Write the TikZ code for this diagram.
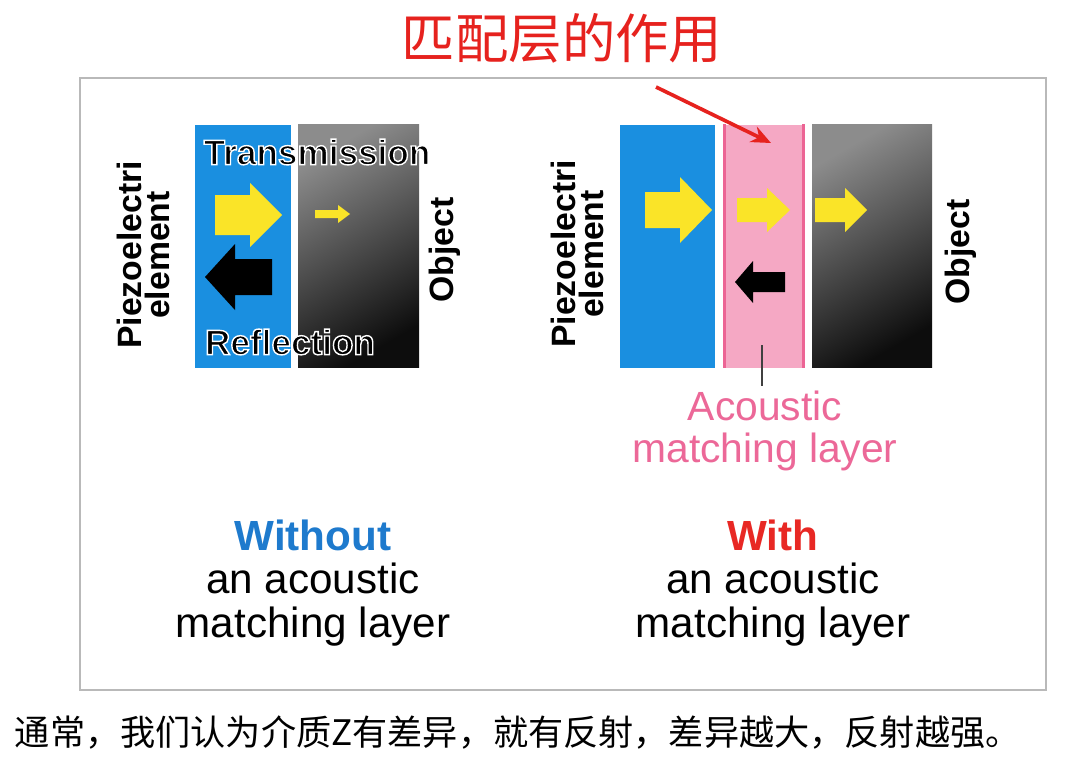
\documentclass[tikz,border=0pt]{standalone}
\usepackage{fontspec}
\setmainfont{Liberation Sans}
\newfontfamily\cjk{Noto Sans CJK SC}
\usepackage{xcolor}
\usetikzlibrary{arrows.meta}

\definecolor{piezo}{RGB}{26,143,224}
\definecolor{layer}{RGB}{245,168,196}
\definecolor{layeredge}{RGB}{236,100,148}
\definecolor{wave}{RGB}{250,228,40}
\definecolor{acoustic}{RGB}{236,104,152}
\definecolor{without}{RGB}{30,122,205}
\definecolor{withred}{RGB}{232,40,36}
\definecolor{titlered}{RGB}{230,34,30}

% colour, tail x, head base x, tip x, y, shaft half, head half
\newcommand{\wavearrow}[7]{%
  \fill[#1] (#2,#5-#6) -- (#3,#5-#6) -- (#3,#5-#7) -- (#4,#5) -- (#3,#5+#7) -- (#3,#5+#6) -- (#2,#5+#6) -- cycle;}
% white rim round the glyphs
\newcommand{\halo}[1]{\special{pdf:code q 2 Tr 1 1 1 RG 1.0 w}#1\special{pdf:code Q}}

\def\pxu{0.025cm}

\begin{document}
\begin{tikzpicture}[x=0.025cm, y=-0.025cm,
    slab/.style={inner sep=0pt, minimum height=243*\pxu},
    side/.style={font=\bfseries\fontsize{24}{20}\selectfont, align=center, rotate=90},
    tag/.style={font=\bfseries\fontsize{25}{25}\selectfont},
    caption/.style={font=\fontsize{30}{31}\selectfont, align=center}]
  \useasboundingbox (0,0) rectangle (1080,769);

  % Title
  \node[font=\cjk\fontsize{38}{38}\selectfont, text=titlered] (title) at (562,38) {匹配层的作用};

  % Frame
  \draw[gray!55, line width=1.2pt, fill=white] (80,78) rectangle (1046,690);

  % Without a matching layer
  \node[slab, fill=piezo, minimum width=96*\pxu] (p1) at (243,246) {};
  \node[slab, shade, top color=black!45, bottom color=black!95, shading angle=30,
        minimum width=121*\pxu] (o1) at (358.5,246) {};
  \wavearrow{wave}{215}{250}{282}{215}{20}{32}
  \wavearrow{wave}{315}{338}{350}{214}{4}{9}
  \wavearrow{black}{272}{235}{205}{277}{18}{33}
  \node[tag] (trans) at (317,152) {\halo{Transmission}};
  \node[tag] (refl) at (290,342) {\halo{Reflection}};
  \node[side] (pz1) at (143,255) {Piezoelectri\\element};
  \node[side] (ob1) at (445,250) {Object};

  % With a matching layer
  \node[slab, fill=piezo, minimum width=95*\pxu] (p2) at (667.5,246) {};
  \node[slab, fill=layer, minimum width=78*\pxu] (ml) at (764,246) {};
  \draw[layeredge, line width=2.2pt] (ml.north west) -- (ml.south west)
    (ml.north east) -- (ml.south east);
  \node[slab, shade, top color=black!45, bottom color=black!95, shading angle=30,
        minimum width=120*\pxu] (o2) at (872,246) {};
  \wavearrow{wave}{645}{680}{712}{210}{18}{33}
  \wavearrow{wave}{737}{767}{790}{210}{12}{22}
  \wavearrow{wave}{815}{845}{867}{210}{12}{22}
  \wavearrow{black}{785}{753}{735}{282}{10}{21}
  \node[side] (pz2) at (577,254) {Piezoelectri\\element};
  \node[side] (ob2) at (961,252) {Object};

  % Labels
  \node[font=\fontsize{29}{30}\selectfont, align=center, text=acoustic] (acl) at (765,431)
    {Acoustic\\matching layer};
  \coordinate (lead) at (762,345);
  \draw[black!75, line width=2pt] (lead) -- (lead |- acl.north);
  \coordinate (hint) at (656,87);
  \coordinate (hit) at (771,143);
  \draw[titlered, line width=2.6pt, -{Stealth[length=14pt, width=12pt]}] (hint) -- (hit);

  \node[caption] (cap1) at (313,583) {\textcolor{without}{\bfseries Without}\\an acoustic\\matching layer};
  \node[caption] (cap2) at (773,583) {\textcolor{withred}{\bfseries With}\\an acoustic\\matching layer};

  % Note
  \node[font=\cjk\fontsize{25}{25}\selectfont, anchor=west] (note) at (10,732)
    {通常，我们认为介质Z有差异，就有反射，差异越大，反射越强。};
\end{tikzpicture}
\end{document}
